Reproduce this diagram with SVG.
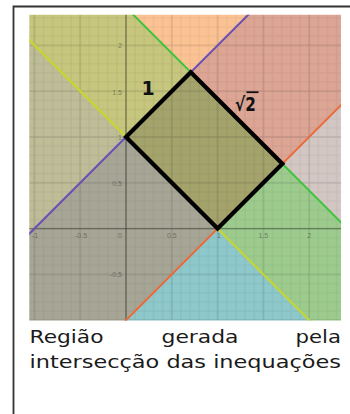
<svg xmlns="http://www.w3.org/2000/svg" width="350" height="414" viewBox="0 0 350 414">
  <defs>
    <clipPath id="plotClip">
      <rect x="29.3" y="14.7" width="311.7" height="305.8"/>
    </clipPath>
    <pattern id="minorGrid" patternUnits="userSpaceOnUse" x="121.42" y="224.02" width="9.16" height="9.16">
      <path d="M4.58 0V9.16M0 4.58H9.16" stroke="#000" stroke-opacity="0.06" stroke-width="1" fill="none"/>
    </pattern>
    <pattern id="majorGrid" patternUnits="userSpaceOnUse" x="103.1" y="205.7" width="45.8" height="45.8">
      <path d="M22.9 0V45.8M0 22.9H45.8" stroke="#000" stroke-opacity="0.12" stroke-width="1" fill="none"/>
    </pattern>
    <style>
      .bnd { fill: none; stroke-width: 2; vector-effect: non-scaling-stroke; }
      .tick { font-family: "Liberation Sans", Arial, sans-serif; font-size: 7px; fill: #333; fill-opacity: 0.5; }
      .cap { font-family: "DejaVu Sans", Verdana, sans-serif; font-size: 18.5px; fill: #1a1a1a; }
      .lbl { font-family: "DejaVu Sans", "Liberation Sans", sans-serif; font-weight: bold; font-size: 19px; fill: #111; }
    </style>
  </defs>

  <rect width="350" height="414" fill="#ffffff"/>

  <!-- frame -->
  <g id="frame">
    <path d="M13.5 414V6.5H350" fill="none" stroke="#333" stroke-width="1.8"/>
  </g>

  <!-- plot -->
  <g id="plot" clip-path="url(#plotClip)">
    <!-- regions in (u = x+y, v = y-x) coordinates -->
    <g id="regions" transform="matrix(45.8,-45.8,-45.8,-45.8,126,228.6)">
      <rect id="r2" x="-6" y="1" width="7" height="6" fill="#bebd98"/>
      <rect id="r1" x="1" y="1" width="1.4142" height="6" fill="#c6c67e"/>
      <rect id="r5" x="2.4142" y="1" width="6" height="6" fill="#fbc394"/>
      <rect id="r3" x="-6" y="-1" width="7" height="2" fill="#a7a696"/>
      <rect id="r4" x="1" y="-1" width="1.4142" height="2" fill="#a4a36c"/>
      <rect id="r6" x="2.4142" y="-1" width="6" height="2" fill="#dca594"/>
      <rect id="r9" x="-6" y="-7" width="7" height="6" fill="#8ec8ca"/>
      <rect id="r8" x="1" y="-7" width="1.4142" height="6" fill="#9dcb8e"/>
      <rect id="r7" x="2.4142" y="-7" width="6" height="6" fill="#d3c7c3"/>
    </g>
    <!-- grid -->
    <rect x="29.3" y="14.7" width="311.7" height="305.8" fill="url(#minorGrid)"/>
    <rect x="29.3" y="14.7" width="311.7" height="305.8" fill="url(#majorGrid)"/>
    <g id="axes" stroke="#000" stroke-opacity="0.3" stroke-width="1.4">
      <line x1="126" y1="10" x2="126" y2="325"/>
      <line x1="25" y1="228.6" x2="345" y2="228.6"/>
    </g>
    <!-- tick labels -->
    <g id="ticks">
      <text class="tick" x="122" y="48" text-anchor="end">2</text>
      <text class="tick" x="122" y="94.5" text-anchor="end">1.5</text>
      <text class="tick" x="122" y="140" text-anchor="end">1</text>
      <text class="tick" x="122" y="185.5" text-anchor="end">0.5</text>
      <text class="tick" x="122" y="276.5" text-anchor="end">-0.5</text>
      <text class="tick" x="35" y="237.5" text-anchor="middle">-1</text>
      <text class="tick" x="81" y="237.5" text-anchor="middle">-0.5</text>
      <text class="tick" x="120" y="237.5" text-anchor="middle">0</text>
      <text class="tick" x="171.8" y="237.5" text-anchor="middle">0.5</text>
      <text class="tick" x="219" y="237.5" text-anchor="middle">1</text>
      <text class="tick" x="263.4" y="237.5" text-anchor="middle">1.5</text>
      <text class="tick" x="309.2" y="237.5" text-anchor="middle">2</text>
    </g>
    <!-- connectors: boundary lines -->
    <g id="connectors" transform="matrix(45.8,-45.8,-45.8,-45.8,126,228.6)">
      <line id="line-purple" class="bnd" x1="-6" y1="1" x2="8" y2="1" stroke="#6a4fb5"/>
      <line id="line-orange" class="bnd" x1="-6" y1="-1" x2="8" y2="-1" stroke="#ec6a3a"/>
      <line id="line-yellow" class="bnd" x1="1" y1="-7" x2="1" y2="7" stroke="#c9d62a"/>
      <line id="line-green" class="bnd" x1="2.4142" y1="-7" x2="2.4142" y2="7" stroke="#3cc43c"/>
      <rect id="rectangle" x="1" y="-1" width="1.4142" height="2" fill="none" stroke="#000" stroke-width="4.2" stroke-linejoin="miter" vector-effect="non-scaling-stroke"/>
    </g>
  </g>

  <!-- side labels -->
  <g id="label-1">
    <text class="lbl" x="148" y="95" text-anchor="middle">1</text>
  </g>
  <g id="label-sqrt2">
    <text class="lbl" transform="translate(235,111) scale(0.8,1)">√2</text>
    <line x1="246.5" y1="92.2" x2="258.5" y2="92.2" stroke="#111" stroke-width="1.8"/>
  </g>

  <!-- caption -->
  <g id="caption">
    <text class="cap" x="29.5" y="343" textLength="74" lengthAdjust="spacingAndGlyphs">Região</text>
    <text class="cap" x="161.5" y="343" textLength="77" lengthAdjust="spacingAndGlyphs">gerada</text>
    <text class="cap" x="295.5" y="343" textLength="45.5" lengthAdjust="spacingAndGlyphs">pela</text>
    <text class="cap" x="29.5" y="368" textLength="311.5" lengthAdjust="spacingAndGlyphs">intersecção das inequações</text>
  </g>
</svg>
